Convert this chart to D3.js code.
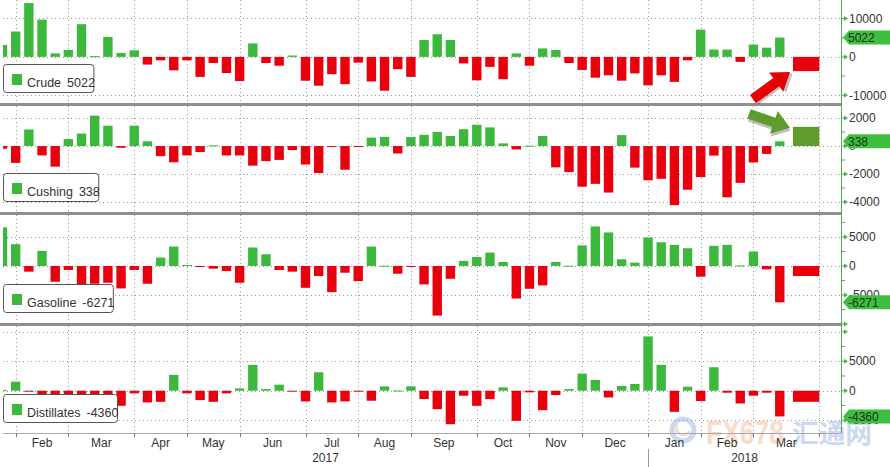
<!DOCTYPE html>
<html><head><meta charset="utf-8">
<script src="https://cdn.jsdelivr.net/npm/d3@7"></script>
<style>
body{margin:0;background:#fff}
svg{display:block;font-family:"Liberation Sans",Arial,sans-serif}
</style>
</head><body><svg id="c" width="890" height="467"></svg>
<script>
// ---------- DATA ----------
const weeks = ["2017-01-27","2017-02-03","2017-02-10","2017-02-17","2017-02-24","2017-03-03","2017-03-10","2017-03-17","2017-03-24","2017-03-31",
"2017-04-07","2017-04-14","2017-04-21","2017-04-28","2017-05-05","2017-05-12","2017-05-19","2017-05-26","2017-06-02","2017-06-09",
"2017-06-16","2017-06-23","2017-06-30","2017-07-07","2017-07-14","2017-07-21","2017-07-28","2017-08-04","2017-08-11","2017-08-18",
"2017-08-25","2017-09-01","2017-09-08","2017-09-15","2017-09-22","2017-09-29","2017-10-06","2017-10-13","2017-10-20","2017-10-27",
"2017-11-03","2017-11-10","2017-11-17","2017-11-24","2017-12-01","2017-12-08","2017-12-15","2017-12-22","2017-12-29","2018-01-05",
"2018-01-12","2018-01-19","2018-01-26","2018-02-02","2018-02-09","2018-02-16","2018-02-23","2018-03-02","2018-03-09","2018-03-16"];

const crude = [3100,6600,14000,9700,900,1800,8500,200,5200,1000,
1700,-2000,-900,-3500,-900,-5200,-1600,-4200,-6300,3500,
-1600,-2300,350,-6200,-7500,-4500,-7100,-1500,-6400,-8800,
-3200,-5200,4400,5900,4400,-1700,-6100,-2600,-5800,900,
-2300,2200,1800,-1600,-3400,-5400,-4800,-6200,-4300,-7400,
-4800,-6500,-900,7100,1900,1900,-1300,3200,2400,5022];

const cushing = [-190,-1200,1180,-670,-1470,500,890,2170,1450,-120,
1450,340,-720,-1160,-670,-430,50,-670,-670,-1400,
-1080,-990,-290,-1320,-1930,-50,-1690,-30,600,650,
-530,650,800,1010,720,1200,1520,1330,190,-240,
30,720,-1520,-1860,-2900,-2700,-3320,780,-1540,-2440,
-2340,-4220,-3120,-2220,-680,-3660,-2630,-1170,-560,338];

const gasoline = [6650,3760,-980,2600,-2720,-690,-3640,-3060,-2890,-3870,
-690,-3060,1450,3350,170,-170,-460,-870,-2890,3180,
2020,-690,-980,-3760,-1730,-4510,-1160,-2600,3350,50,
-1330,-50,-3180,-8550,-2200,870,1560,2310,690,-5610,
-3930,-3350,690,60,3550,6820,5780,1160,580,4910,
4100,3640,3060,-1850,3470,3640,100,2490,-580,-6271];

const distillates = [100,1530,-50,-680,-2730,-970,-2560,-2730,-1880,-2560,
-450,-1990,-1880,2670,-450,-1590,-1880,-450,400,4380,
280,1020,-100,-1820,3130,-1990,-1820,-50,-1700,740,
30,740,-1420,-3130,-5680,-850,-2560,-1420,570,-5110,
-280,-3300,-740,280,2900,1820,-1140,800,1140,9200,
4380,-3580,680,-1760,3980,-340,-2160,-850,-340,-4360];

const seriesNames = ["Crude","Cushing","Gasoline","Distillates"];
const expected = [-3700, 1370, -1730, -1880];
const expectedSpan = ["2018-03-23","2018-04-06"];

const monthStarts = ["2017-02-03","2017-03-03","2017-04-07","2017-05-05","2017-06-02","2017-07-07","2017-08-04","2017-09-01",
"2017-10-06","2017-11-03","2017-12-01","2018-01-05","2018-02-02","2018-03-02","2018-04-06"];
const monthLabels = ["Feb","Mar","Apr","May","Jun","Jul","Aug","Sep","Oct","Nov","Dec","Jan","Feb","Mar"];
const yearLabels = ["2017","2018"];
const yearBreak = "2018-01-05";

const majorTicks = [[10000,0,-10000],[2000,0,-2000,-4000],[5000,0,-5000,-10000],[10000,5000,0,-5000]];
const minorTicks = [[5000,-5000],[1000,-1000,-3000],[7500,2500,-2500,-7500],[7500,2500,-2500]];
const shownLabels = [[10000,0,-10000],[2000,0,-2000,-4000],[5000,0,-5000],[5000,0,-5000]];

// ---------- LAYOUT ----------
const W = 890, H = 467;
const plotL = 3, plotR = 841;
const panels = [
  {top:0,   bottom:103, dom:[-12000,14800]},
  {top:106, bottom:212, dom:[-4710,2860]},
  {top:215, bottom:323, dom:[-9830,8790]},
  {top:326, bottom:433, dom:[-7170,10970]}
];
const values = [crude, cushing, gasoline, distillates];
const GREEN = "#3cb83c", RED = "#e8000d", OLIVE = "#5e9c2c", AXISG = "#4fae4f";

const parse = d3.timeParse("%Y-%m-%d");
const dates = weeks.map(parse);
const x = d3.scaleTime().domain([parse("2017-01-27"), parse("2018-04-06")]).range([2.5, 819.3]);
const bw = 9.4;

const svg = d3.select("#c");
svg.append("rect").attr("width",W).attr("height",H).attr("fill","#fff");
const defs = svg.append("defs");
defs.append("clipPath").attr("id","plotclip").append("rect")
  .attr("x",plotL).attr("y",0).attr("width",plotR-plotL).attr("height",H);

// watermark (drawn early, faint)
const wm = svg.append("g").attr("opacity",0.4);
wm.append("circle").attr("cx",683).attr("cy",430).attr("r",11).attr("fill","none").attr("stroke","#7f9fd8").attr("stroke-width",5);
wm.append("path").attr("d","M677,424 A7,7 0 1,0 690,431").attr("fill","none").attr("stroke","#f3a77a").attr("stroke-width",3);
wm.append("text").attr("x",706).attr("y",444).attr("font-size",34).attr("font-weight","bold")
  .attr("textLength",78).attr("lengthAdjust","spacingAndGlyphs").attr("fill","#f3a77a").text("FX678");
wm.append("text").attr("x",792).attr("y",443).attr("font-size",26).attr("font-weight","bold")
  .attr("font-family","Noto Sans CJK SC").attr("textLength",80).attr("lengthAdjust","spacingAndGlyphs")
  .attr("fill","#7f9fd8").text("汇通网");

panels.forEach((p,i)=>{
  const y = d3.scaleLinear().domain(p.dom).range([p.bottom,p.top]);
  p.y = y;
  const g = svg.append("g");
  g.selectAll("line.h").data(majorTicks[i].filter(v=>y(v)>p.top+1 && y(v)<p.bottom-1)).join("line")
    .attr("x1",plotL).attr("x2",plotR).attr("y1",d=>Math.round(y(d))+0.5).attr("y2",d=>Math.round(y(d))+0.5)
    .attr("stroke","#9a9a9a").attr("stroke-width",1).attr("stroke-dasharray","1,3");
  g.selectAll("line.v").data(monthStarts.map(parse)).join("line")
    .attr("x1",d=>Math.round(x(d))+0.5).attr("x2",d=>Math.round(x(d))+0.5)
    .attr("y1",p.top).attr("y2",p.bottom)
    .attr("stroke","#9a9a9a").attr("stroke-width",1).attr("stroke-dasharray","1,3");
  const bars = g.append("g").attr("clip-path","url(#plotclip)");
  bars.selectAll("rect").data(values[i]).join("rect")
    .attr("x",(d,k)=>x(dates[k])-bw/2)
    .attr("width",bw)
    .attr("y",d=>Math.min(y(d),y(0)))
    .attr("height",d=>Math.max(1,Math.abs(y(d)-y(0))))
    .attr("fill",d=>d>=0?GREEN:RED);
  const ex0 = x(parse(expectedSpan[0])), ex1 = x(parse(expectedSpan[1]));
  const ev = expected[i];
  g.append("rect").attr("x",ex0).attr("width",ex1-ex0)
    .attr("y",Math.min(y(ev),y(0))).attr("height",Math.abs(y(ev)-y(0)))
    .attr("fill", ev>=0 ? OLIVE : RED);
  majorTicks[i].forEach(v=>{
    const yy = y(v);
    if (yy < p.top-2 || yy > p.bottom+2) return;
    g.append("path").attr("d",`M${plotR},${yy-0.5}H${plotR+3}V${yy-2.5}L${plotR+7},${yy}L${plotR+3},${yy+2.5}V${yy+0.5}H${plotR}Z`)
      .attr("fill",AXISG);
  });
  minorTicks[i].forEach(v=>{
    const yy = y(v);
    if (yy < p.top || yy > p.bottom) return;
    g.append("line").attr("x1",plotR).attr("x2",plotR+4).attr("y1",yy).attr("y2",yy)
      .attr("stroke",AXISG).attr("stroke-width",1);
  });
  g.selectAll("text.tl").data(shownLabels[i]).join("text")
    .attr("x",plotR+8).attr("y",d=>y(d)).attr("dy","0.35em")
    .attr("font-size",12).attr("fill","#333").text(d=>d);
  const last = values[i][values[i].length-1];
  const ty = y(last);
  g.append("path").attr("d",`M${plotR+2},${ty}L${plotR+8},${ty-7}H${W}V${ty+7}H${plotR+8}Z`).attr("fill","#3fbf3f");
  g.append("text").attr("x",plotR+7).attr("y",ty).attr("dy","0.36em").attr("font-size",12)
    .attr("fill","#1d2d1d").text(last);
  const lgText = g.append("text").attr("font-size",12.5).attr("fill","#333")
    .attr("x",27).attr("y",p.bottom-16);
  lgText.append("tspan").text(seriesNames[i]);
  lgText.append("tspan").attr("dx",6).text(last);
  const tw = lgText.node().getComputedTextLength();
  g.append("rect").attr("x",3.5).attr("y",p.bottom-38.5).attr("width",27+tw+5-3.5).attr("height",28)
    .attr("rx",3).attr("fill","#fff").attr("stroke","#555").attr("stroke-width",1);
  g.append("rect").attr("x",12).attr("y",p.bottom-29).attr("width",10).attr("height",11).attr("fill",GREEN);
  lgText.raise();
});

[104.5, 213.5, 324.5].forEach(yy=>{
  svg.append("rect").attr("x",0).attr("y",yy-1.5).attr("width",plotR).attr("height",3).attr("fill","#8f8f8f");
});
svg.append("line").attr("x1",plotR+0.5).attr("x2",plotR+0.5).attr("y1",0).attr("y2",433)
  .attr("stroke",AXISG).attr("stroke-width",1);

const axY = 433;
svg.append("line").attr("x1",plotL).attr("x2",plotR).attr("y1",axY+0.5).attr("y2",axY+0.5).attr("stroke","#aaa");
const ms = monthStarts.map(parse);
svg.selectAll("line.mt").data(ms).join("line")
  .attr("x1",d=>Math.round(x(d))+0.5).attr("x2",d=>Math.round(x(d))+0.5)
  .attr("y1",axY).attr("y2",axY+4).attr("stroke","#777");
svg.selectAll("text.ml").data(monthLabels).join("text")
  .attr("x",(d,i)=>(x(ms[i])+x(ms[i+1]))/2).attr("y",447).attr("text-anchor","middle")
  .attr("font-size",12).attr("fill","#333").text(d=>d);
const yb = x(parse(yearBreak));
svg.append("line").attr("x1",Math.round(yb)+0.5).attr("x2",Math.round(yb)+0.5).attr("y1",449).attr("y2",467).attr("stroke","#999");
svg.selectAll("text.yl").data(yearLabels).join("text")
  .attr("x",(d,i)=> i===0 ? (plotL+yb)/2 : (yb+plotR)/2).attr("y",462).attr("text-anchor","middle")
  .attr("font-size",12).attr("fill","#333").text(d=>d);

function fatArrow(tail, tip, color){
  const dx = tip[0]-tail[0], dy = tip[1]-tail[1];
  const L = Math.hypot(dx,dy), a = Math.atan2(dy,dx)*180/Math.PI;
  const hl = 17, hw = 12, sw = 5;
  const d = `M0,${-sw}L${L-hl},${-sw}L${L-hl},${-hw}L${L},0L${L-hl},${hw}L${L-hl},${sw}L0,${sw}Z`;
  const g = svg.append("g").attr("transform",`translate(${tail[0]},${tail[1]}) rotate(${a})`);
  g.append("path").attr("d",d).attr("fill","rgba(0,0,0,0.25)").attr("transform","translate(1.5,2.5)");
  g.append("path").attr("d",d).attr("fill",color);
}
const ex0 = x(parse(expectedSpan[0]));
const yr = panels[0].y(expected[0]);
fatArrow([ex0-40, yr+28], [ex0-3, yr+1], "#e60000");
const yg = panels[1].y(expected[1]);
fatArrow([ex0-44, yg-13], [ex0-3, yg+1], "#5e9c2c");
</script>
</body></html>
